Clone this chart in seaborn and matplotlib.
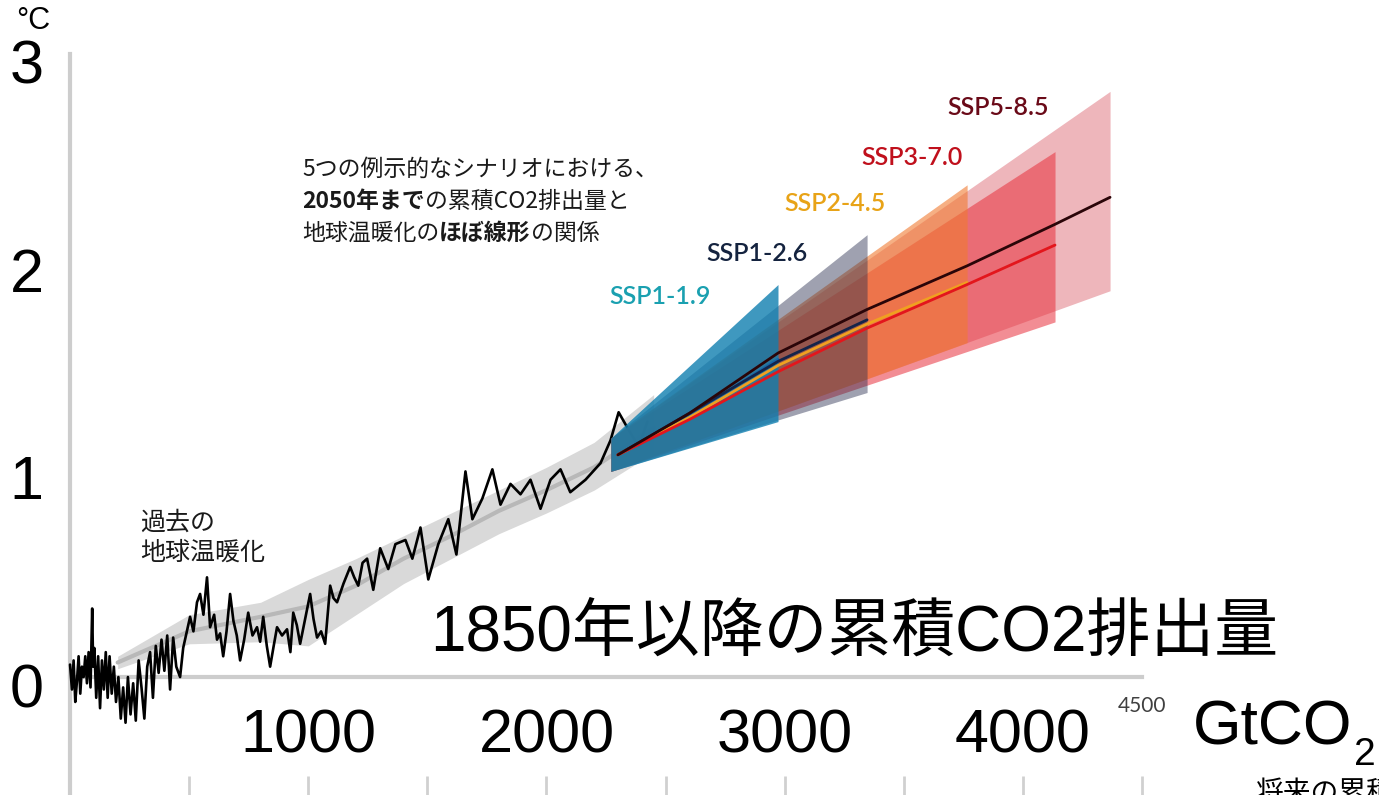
import matplotlib
matplotlib.use("Agg")
import matplotlib.pyplot as plt
import matplotlib.transforms as mtransforms
import numpy as np
import pandas as pd
import seaborn as sns

# Observed cumulative CO2 emissions since 1850 (GtCO2) and global warming (°C)
hist_cum = [0, 8, 15, 22, 29, 36, 43, 50, 57, 64, 71, 78, 86, 93, 97, 102, 110, 118, 126, 134,
            142, 150, 158, 166, 175, 184, 193, 203, 213, 223, 233, 243, 254, 265, 276, 288, 300,
            312, 324, 336, 348, 360, 372, 384, 396, 408, 420, 433, 446, 462, 475, 504, 518, 533,
            546, 560, 575, 588, 605, 617, 630, 643, 657, 672, 686, 700, 714, 731, 748, 766, 785,
            798, 811, 826, 840, 855, 869, 890, 911, 925, 937, 952, 966, 987, 1008, 1022, 1037,
            1054, 1071, 1092, 1106, 1121, 1148, 1176, 1193, 1210, 1228, 1247, 1273, 1302, 1336,
            1366, 1408, 1437, 1471, 1504, 1546, 1588, 1622, 1660, 1689, 1731, 1773, 1807, 1849,
            1891, 1933, 1975, 2017, 2059, 2100, 2164, 2227, 2269, 2303, 2345, 2387, 2424]
hist_temp = [0.06, -0.06, 0.08, -0.12, -0.02, 0.10, -0.08, 0.05, 0.00, 0.10, -0.03, 0.12, -0.05,
             0.33, 0.05, 0.14, -0.10, 0.10, -0.15, 0.08, -0.06, 0.12, -0.10, 0.10, -0.08, 0.05,
             -0.12, 0.00, -0.20, -0.05, -0.22, 0.00, -0.18, -0.03, -0.21, 0.08, -0.05, -0.20,
             0.05, 0.12, -0.10, 0.15, 0.02, 0.18, 0.03, 0.20, -0.06, 0.19, 0.05, 0.00, 0.14,
             0.29, 0.22, 0.36, 0.40, 0.30, 0.48, 0.24, 0.30, 0.18, 0.21, 0.10, 0.22, 0.40, 0.27,
             0.20, 0.08, 0.18, 0.31, 0.20, 0.24, 0.17, 0.29, 0.15, 0.05, 0.15, 0.24, 0.20, 0.23,
             0.12, 0.31, 0.25, 0.16, 0.28, 0.40, 0.28, 0.19, 0.22, 0.16, 0.44, 0.38, 0.36, 0.45,
             0.53, 0.48, 0.44, 0.55, 0.57, 0.42, 0.62, 0.52, 0.64, 0.66, 0.57, 0.72, 0.47, 0.64,
             0.76, 0.59, 0.99, 0.76, 0.86, 1.00, 0.83, 0.93, 0.88, 0.95, 0.81, 0.95, 1.00, 0.89,
             0.95, 1.03, 1.14, 1.275, 1.19, 1.11, 1.23]

# Smoothed historical warming and its likely range
smooth_cum = [200, 500, 800, 1000, 1200, 1400, 1600, 1800, 2000, 2200, 2450]
smooth_mid = [0.07, 0.22, 0.29, 0.34, 0.44, 0.57, 0.68, 0.80, 0.90, 1.01, 1.20]
smooth_lo = [0.04, 0.16, 0.17, 0.15, 0.30, 0.45, 0.57, 0.69, 0.79, 0.90, 1.08]
smooth_hi = [0.10, 0.30, 0.36, 0.47, 0.57, 0.68, 0.79, 0.90, 1.01, 1.13, 1.36]

# Illustrative scenarios: cumulative emissions up to 2050 and warming range
scenarios = ["SSP1-1.9", "SSP1-2.6", "SSP2-4.5", "SSP3-7.0", "SSP5-8.5"]
band_start = 2270
band_start_lo = 0.99
band_start_hi = 1.15
band_end = [2972, 3346, 3766, 4135, 4366]
band_end_lo = [1.23, 1.37, 1.61, 1.71, 1.86]
band_end_hi = [1.89, 2.13, 2.37, 2.53, 2.82]

# Central estimates along each pathway
proj_cum = [2300, 2600, 2972, 3346, 3766, 4135, 4366]
proj_temp = {
    "SSP1-1.9": [1.07, 1.26, 1.53],
    "SSP1-2.6": [1.07, 1.27, 1.52, 1.72],
    "SSP2-4.5": [1.07, 1.25, 1.50, 1.70, 1.90],
    "SSP3-7.0": [1.07, 1.24, 1.47, 1.68, 1.89, 2.08],
    "SSP5-8.5": [1.07, 1.27, 1.56, 1.77, 1.98, 2.18, 2.31],
}

x_major = [1000, 2000, 3000, 4000]
x_minor = list(range(0, 4501, 500))
y_major = [0, 1, 2, 3]
y_minor = [-0.5, 0, 0.5, 1, 1.5, 2, 2.5, 3]

band_colors = {"SSP1-1.9": "#0f7fb0", "SSP1-2.6": "#2a3050", "SSP2-4.5": "#f07a30",
               "SSP3-7.0": "#e8303c", "SSP5-8.5": "#e07a84"}
band_alpha = {"SSP1-1.9": 0.8, "SSP1-2.6": 0.45, "SSP2-4.5": 0.6,
              "SSP3-7.0": 0.55, "SSP5-8.5": 0.55}
line_colors = {"SSP1-1.9": "#1565a8", "SSP1-2.6": "#14244a", "SSP2-4.5": "#f0a020",
               "SSP3-7.0": "#e3161c", "SSP5-8.5": "#2a0508"}
label_colors = {"SSP1-1.9": "#1aa0b0", "SSP1-2.6": "#14233f", "SSP2-4.5": "#e8a317",
                "SSP3-7.0": "#c0101c", "SSP5-8.5": "#6a0a18"}
label_pos = {"SSP1-1.9": (2477, 1.83), "SSP1-2.6": (2884, 2.04), "SSP2-4.5": (3212, 2.28),
             "SSP3-7.0": (3535, 2.50), "SSP5-8.5": (3896, 2.74)}

sns.set_theme(style="white")
plt.rcParams["font.family"] = ["Liberation Sans", "Noto Sans CJK JP", "DejaVu Sans"]
JP = ["Noto Sans CJK JP", "DejaVu Sans"]
AXIS_GREY = "#cdcdcd"

fig = plt.figure(figsize=(13.79, 7.95), dpi=100)
ax = fig.add_axes([0, 0, 1, 1])
ax.set_xlim(-294, 5495)
ax.set_ylim(-0.568, 3.26)

# axes drawn through the origin
for side in ["top", "right"]:
    ax.spines[side].set_visible(False)
ax.spines["left"].set_position(("data", 0))
ax.spines["bottom"].set_position(("data", 0))
ax.spines["left"].set_bounds(-0.568, 3.0)
ax.spines["bottom"].set_bounds(0, 4500)
for side in ["left", "bottom"]:
    ax.spines[side].set_color(AXIS_GREY)
    ax.spines[side].set_linewidth(3.0)
    ax.spines[side].set_zorder(1)

ax.set_xticks(x_major)
ax.set_xticklabels([str(v) for v in x_major])
ax.set_xticks(x_minor, minor=True)
ax.set_yticks(y_major)
ax.set_yticklabels([str(v) for v in y_major])
ax.set_yticks(y_minor, minor=True)
ax.tick_params(axis="x", which="both", direction="inout", length=10, width=2,
               color=AXIS_GREY, labelsize=44, pad=18, labelcolor="black")
ax.tick_params(axis="y", which="both", direction="out", length=9, width=2,
               color=AXIS_GREY, labelsize=44, pad=10, labelcolor="black")
# nudge the value labels of the temperature axis slightly downward
shift = mtransforms.ScaledTranslation(0, -8 / 100, fig.dpi_scale_trans)
for lab in ax.get_yticklabels():
    lab.set_transform(lab.get_transform() + shift)

# second row of tick marks near the bottom edge
sec = ax.secondary_xaxis(0.011)
sec.set_xticks(x_minor)
sec.tick_params(direction="inout", length=14, width=2, color="#d0d0d0",
                labelbottom=False, labeltop=False)
for sp in sec.spines.values():
    sp.set_visible(False)

# historical likely range and smoothed curve
ax.fill_between(smooth_cum, smooth_lo, smooth_hi, color="#d9d9d9", lw=0, zorder=2)
sns.lineplot(x=smooth_cum, y=smooth_mid, color="#b8b8b8", lw=3, ax=ax,
             estimator=None, sort=False, zorder=3)
sns.lineplot(x=hist_cum, y=hist_temp, color="black", lw=1.9, ax=ax,
             estimator=None, sort=False, zorder=4)

# scenario ranges, widest first
for i, name in reversed(list(enumerate(scenarios))):
    ax.fill_between([band_start, band_end[i]],
                    [band_start_lo, band_end_lo[i]],
                    [band_start_hi, band_end_hi[i]],
                    color=band_colors[name], alpha=band_alpha[name], lw=0,
                    zorder=5 + (4 - i))

for name in scenarios:
    temps = proj_temp[name]
    df = pd.DataFrame({"cum": proj_cum[:len(temps)], "temp": temps})
    sns.lineplot(data=df, x="cum", y="temp", color=line_colors[name], lw=2.0,
                 ax=ax, estimator=None, sort=False, zorder=12)
    lx, ly = label_pos[name]
    ax.text(lx, ly, name, color=label_colors[name], fontsize=18, family="Lato",
            fontweight="semibold", ha="center", va="center", zorder=13)

ax.set_xlabel("")
ax.set_ylabel("")


def chain(parts, x, y, size):
    """Write a line of mixed-weight text piece by piece."""
    txt, weight = parts[0]
    prev = ax.text(x, y, txt, fontsize=size, fontweight=weight, family=JP,
                   color="#1a1a1a", ha="left", va="bottom", zorder=14)
    for txt, weight in parts[1:]:
        prev = ax.annotate(txt, xy=(1, 0), xycoords=prev, fontsize=size,
                           fontweight=weight, family=JP, color="#1a1a1a",
                           ha="left", va="bottom", zorder=14)


chain([("5つの例示的なシナリオにおける、", "normal")], 974, 2.39, 16.5)
chain([("2050年まで", "bold"), ("の累積CO2排出量と", "normal")], 974, 2.234, 16.5)
chain([("地球温暖化の", "normal"), ("ほぼ線形", "bold"), ("の関係", "normal")], 974, 2.08, 16.5)

ax.text(294, 0.68, "過去の", fontsize=18, family=JP, color="#1a1a1a", ha="left", va="bottom")
ax.text(294, 0.534, "地球温暖化", fontsize=18, family=JP, color="#1a1a1a", ha="left", va="bottom")

ax.text(1511, 0.202, "1850年以降の累積CO2排出量", fontsize=46, color="black",
        ha="left", va="center", zorder=14)

ax.text(4500, -0.14, "4500", fontsize=15, family="Lato", color="#404040",
        ha="center", va="center")
unit = ax.text(4714, -0.323, "GtCO", fontsize=45, color="black", ha="left", va="baseline")
ax.annotate("2", xy=(1, 0), xycoords=unit, xytext=(1, -6), textcoords="offset points",
            fontsize=28, color="black", ha="left", va="baseline")

ax.text(-225, 3.12, "°C", fontsize=22, color="black", ha="left", va="baseline")
ax.text(4975, -0.486, "将来の累積CO2排出量", fontsize=20, family=JP, color="black",
        ha="left", va="top")

fig.savefig("out.png", dpi=100)
